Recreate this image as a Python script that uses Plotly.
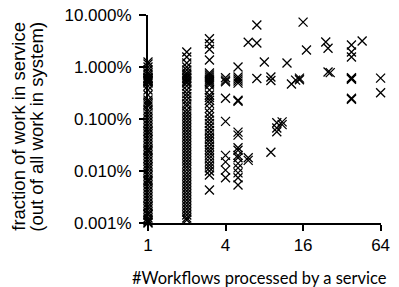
import math
import plotly.graph_objects as go

# Number of workflows processed by a service (x) and fraction of work in service (%) (y)
x_w1 = [1] * 69
y_w1 = [1.25, 1.14, 1.0, 0.875, 0.767, 0.70, 0.64, 0.614, 0.60, 0.587, 0.562, 0.55, 0.538, 0.52,
        0.492, 0.431, 0.361, 0.290, 0.232, 0.212, 0.194, 0.178, 0.149, 0.130, 0.114, 0.100,
        0.0875, 0.0767, 0.0672, 0.0588, 0.058, 0.0515, 0.0451, 0.0395, 0.0346, 0.0303, 0.0265,
        0.025, 0.0232, 0.0203, 0.0178, 0.0156, 0.0136, 0.012, 0.0119, 0.0105, 0.00916, 0.00802,
        0.00702, 0.0065, 0.00614, 0.00538, 0.00471, 0.00412, 0.00361, 0.00316, 0.00277, 0.00242,
        0.00212, 0.0021, 0.00186, 0.00163, 0.0015, 0.00143, 0.00125, 0.00114, 0.0011, 0.00104, 0.00100]

x_w2 = [2] * 57
y_w2 = [1.94, 1.56, 1.19, 1.0, 0.875, 0.767, 0.70, 0.64, 0.60, 0.56, 0.52, 0.492, 0.431, 0.361,
        0.31, 0.27, 0.232, 0.20, 0.178, 0.149, 0.130, 0.114, 0.100, 0.0875, 0.0767, 0.0672,
        0.0588, 0.0515, 0.0451, 0.0395, 0.0346, 0.0303, 0.0265, 0.0232, 0.0203, 0.0178, 0.0156,
        0.0136, 0.0119, 0.0105, 0.00916, 0.00802, 0.00702, 0.00614, 0.00538, 0.00471, 0.00412,
        0.00361, 0.00316, 0.00277, 0.00242, 0.00212, 0.00186, 0.00163, 0.00143, 0.00125, 0.00114]

x_w3 = [3] * 39
y_w3 = [3.5, 2.8, 2.2, 1.36, 0.767, 0.70, 0.64, 0.59, 0.56, 0.52, 0.49, 0.45, 0.36, 0.29, 0.26,
        0.23, 0.20, 0.16, 0.13, 0.11, 0.095, 0.082, 0.07, 0.06, 0.052, 0.045, 0.04, 0.035, 0.03,
        0.026, 0.023, 0.02, 0.0175, 0.015, 0.013, 0.0115, 0.01, 0.0084, 0.0043]

x_other = [4, 4, 4, 4, 4, 4, 4, 4, 4,
           5, 5, 5, 5, 5, 5, 5, 5, 5, 5, 5, 5, 5, 5, 5, 5, 5, 5,
           6, 6, 6,
           7, 7, 7,
           8,
           9, 9, 9,
           10, 10, 10,
           11, 11,
           12, 13, 14, 15, 15, 16, 17, 24, 25, 25, 26,
           38, 38, 38, 38, 38, 38, 38, 38,
           46, 64, 64]
y_other = [0.62, 0.56, 0.52, 0.25, 0.09, 0.020, 0.015, 0.0104, 0.0074,
           1.0, 0.64, 0.59, 0.54, 0.49, 0.23, 0.22, 0.056, 0.049, 0.028, 0.025, 0.020, 0.018,
           0.014, 0.0115, 0.0092, 0.0074, 0.0054,
           3.0, 0.018, 0.016,
           6.4, 2.9, 0.60,
           1.25,
           0.64, 0.55, 0.023,
           0.085, 0.067, 0.057,
           0.088, 0.078,
           1.19, 0.47, 0.56, 0.61, 0.57, 7.3, 2.12, 3.03, 2.3, 0.80, 0.78,
           2.65, 1.94, 1.56, 0.62, 0.60, 0.58, 0.25, 0.24,
           3.16, 0.61, 0.32]

x_ticks = [1, 4, 16, 64]
x_tick_labels = ["1", "4", "16", "64"]
y_ticks = [0.001, 0.01, 0.1, 1, 10]
y_tick_labels = ["0.001%", "0.010%", "0.100%", "1.000%", "10.000%"]
y_title_lines = ["fraction of work in service", "(out of all work in system)"]
x_title = "#Workflows processed by a service"

x_all = x_w1 + x_w2 + x_w3 + x_other
y_all = y_w1 + y_w2 + y_w3 + y_other

fig = go.Figure()
fig.add_trace(go.Scatter(
    x=x_all, y=y_all, mode="markers", cliponaxis=False,
    marker=dict(symbol="x-thin", size=9, color="black",
                line=dict(color="black", width=1.3)),
    showlegend=False, hoverinfo="skip",
))

arial = "Liberation Sans, Arial, sans-serif"
tick_font = dict(family=arial, size=17, color="black")
fig.update_layout(
    template="none",
    width=399, height=287,
    margin=dict(l=148, r=18, t=15, b=64),
    paper_bgcolor="white", plot_bgcolor="white",
    xaxis=dict(type="log", range=[0, math.log10(64) + 0.003], automargin=False,
               tickvals=x_ticks, ticktext=x_tick_labels,
               ticks="outside", ticklen=6, tickwidth=1.5, tickcolor="black",
               ticklabeloverflow="allow",
               showline=True, linewidth=2, linecolor="black",
               showgrid=False, zeroline=False, tickfont=tick_font),
    yaxis=dict(type="log", range=[-3, 1], automargin=False,
               tickvals=y_ticks, ticktext=y_tick_labels,
               ticks="outside", ticklen=7, tickwidth=1.5, tickcolor="black",
               ticklabelstandoff=4, ticklabeloverflow="allow",
               showline=True, linewidth=2, linecolor="black",
               showgrid=False, zeroline=False, tickfont=tick_font),
    annotations=[
        dict(text=y_title_lines[0],
             xref="paper", yref="paper", x=-0.556, y=0.465,
             xanchor="center", yanchor="middle", textangle=-90, showarrow=False,
             font=dict(family=arial, size=18.5, color="black")),
        dict(text=y_title_lines[1],
             xref="paper", yref="paper", x=-0.479, y=0.465,
             xanchor="center", yanchor="middle", textangle=-90, showarrow=False,
             font=dict(family=arial, size=18.5, color="black")),
        dict(text=x_title,
             xref="paper", yref="paper", x=0.478, y=-0.265,
             xanchor="center", yanchor="middle", showarrow=False,
             font=dict(family="Lato, sans-serif", size=16.5, color="black")),
    ],
)

fig.write_html("out.html", config={"displayModeBar": False},
               post_script="document.body.style.margin='0px';")
